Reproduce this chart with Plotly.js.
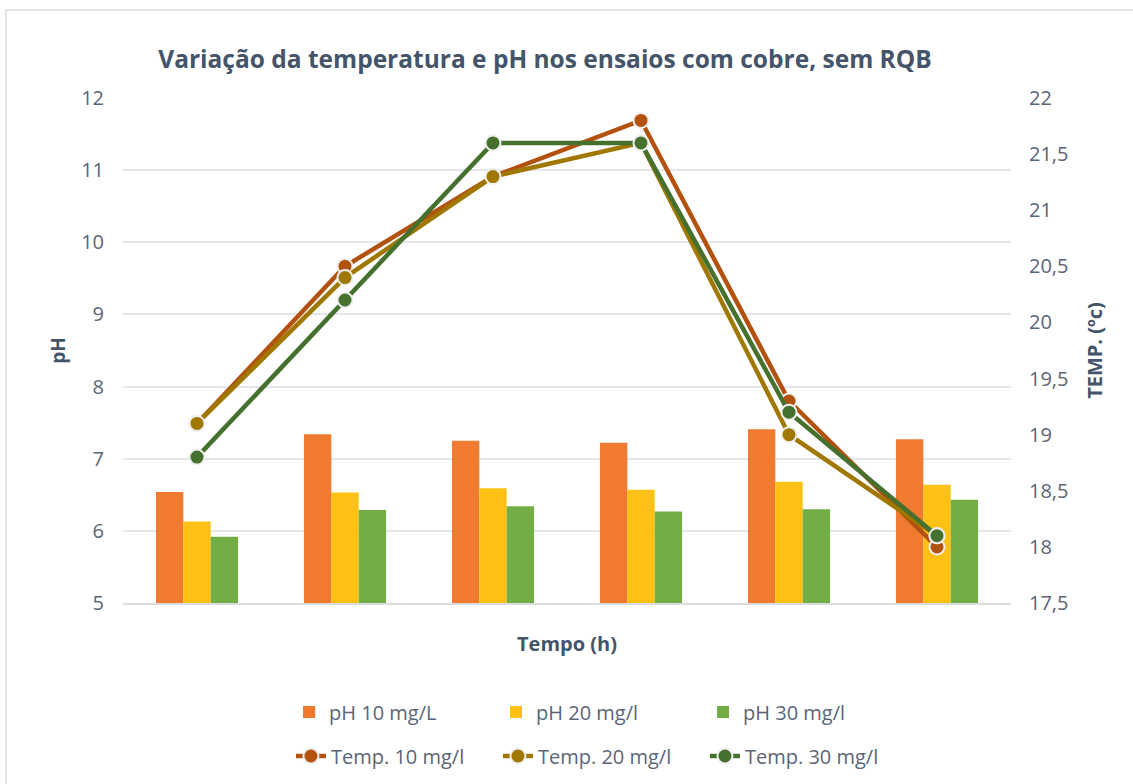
<!DOCTYPE html>
<html><head><meta charset="utf-8">
<script src="https://cdn.plot.ly/plotly-3.0.1.min.js"></script>
<style>html,body{margin:0;padding:0;background:#fff;} #chart{width:1133px;height:784px;}</style>
</head><body><div id="chart"></div>
<script>
const categories = ['1', '2', '3', '4', '5', '6'];
const ph10 = [6.54, 7.34, 7.25, 7.22, 7.41, 7.27];
const ph20 = [6.13, 6.53, 6.59, 6.57, 6.68, 6.64];
const ph30 = [5.92, 6.29, 6.34, 6.27, 6.30, 6.43];
const temp10 = [19.1, 20.5, 21.3, 21.8, 19.3, 18.0];
const temp20 = [19.1, 20.4, 21.3, 21.6, 19.0, 18.1];
const temp30 = [18.8, 20.2, 21.6, 21.6, 19.2, 18.1];
const phTicks = [5, 6, 7, 8, 9, 10, 11, 12];
const tempTickVals = [17.5, 18, 18.5, 19, 19.5, 20, 20.5, 21, 21.5, 22];
const tempTickText = ['17,5', '18', '18,5', '19', '19,5', '20', '20,5', '21', '21,5', '22'];

const FONT = 'Open Sans, Lato, sans-serif';
const TXT = '#5B6577';
const DARK = '#44546A';
const GRID = '#E3E6EB';

function bar(name, y, color) {
  return {type: 'bar', name: name, x: categories, y: y, yaxis: 'y', legend: 'legend',
    marker: {color: color, line: {width: 0}}, hoverinfo: 'y+name'};
}
function line(name, y, color) {
  return {type: 'scatter', mode: 'lines+markers', name: name, x: categories, y: y, yaxis: 'y2', legend: 'legend2',
    line: {color: color, width: 4.5},
    marker: {color: color, size: 15, line: {color: '#EEEEEE', width: 2}}};
}

const data = [
  bar('pH 10 mg/L', ph10, '#F07B30'),
  bar('pH 20 mg/l', ph20, '#FDC115'),
  bar('pH 30 mg/l', ph30, '#72AE45'),
  line('Temp. 10 mg/l', temp10, '#B3510F'),
  line('Temp. 20 mg/l', temp20, '#A07800'),
  line('Temp. 30 mg/l', temp30, '#45702D')
];

const layout = {
  width: 1133, height: 784,
  margin: {l: 123, r: 122, t: 98, b: 181, pad: 0},
  paper_bgcolor: '#FFFFFF', plot_bgcolor: '#FFFFFF',
  font: {family: FONT, color: TXT, size: 20},
  title: {text: 'Variação da temperatura e pH nos ensaios com cobre, sem RQB',
    font: {family: FONT, size: 24.5, color: DARK, weight: 'bold'},
    x: 0.481, xanchor: 'center', xref: 'container', y: 0.924, yanchor: 'middle', yref: 'container'},
  barmode: 'group', bargap: 0.445, bargroupgap: 0,
  showlegend: true,
  xaxis: {type: 'category', showticklabels: false, ticks: '', showgrid: false, zeroline: false,
    showline: true, linecolor: '#D9DCE1', linewidth: 1.5,
    title: {text: 'Tempo (h)', font: {family: FONT, size: 20, color: DARK, weight: 'bold'}, standoff: 33}},
  yaxis: {range: [5, 12], tickvals: phTicks, ticktext: phTicks.map(String), ticks: '',
    showgrid: true, gridcolor: GRID, gridwidth: 1.5, zeroline: false, showline: false,
    tickfont: {family: FONT, size: 20, color: TXT}, ticklabelstandoff: 18,
    title: {text: 'pH', font: {family: FONT, size: 19, color: DARK, weight: 'bold'}, standoff: 10}},
  yaxis2: {range: [17.5, 22], overlaying: 'y', side: 'right', tickvals: tempTickVals, ticktext: tempTickText,
    ticks: '', showgrid: false, zeroline: false, showline: false,
    tickfont: {family: FONT, size: 20, color: TXT}, ticklabelstandoff: 17,
    title: {text: 'TEMP. (ºc)', font: {family: FONT, size: 20, color: DARK, weight: 'bold'}, standoff: 20}},
  legend: {orientation: 'h', xref: 'container', yref: 'container', x: 0.2551, xanchor: 'left', y: 0.0918, yanchor: 'middle',
    bgcolor: 'rgba(0,0,0,0)', borderwidth: 0, entrywidth: 162, traceorder: 'normal',
    font: {family: FONT, size: 20, color: TXT}},
  legend2: {orientation: 'h', xref: 'container', yref: 'container', x: 0.2568, xanchor: 'left', y: 0.0357, yanchor: 'middle',
    bgcolor: 'rgba(0,0,0,0)', borderwidth: 0, entrywidth: 162, traceorder: 'normal',
    font: {family: FONT, size: 20, color: TXT}},
  shapes: [{type: 'rect', xref: 'paper', yref: 'paper', x0: -0.1318, x1: 1.3, y0: -0.5, y1: 1.1744,
    line: {color: '#E3E6EC', width: 2}, fillcolor: 'rgba(0,0,0,0)', layer: 'below'}]
};

Plotly.newPlot('chart', data, layout, {displayModeBar: false, responsive: false});
</script>
</body></html>
